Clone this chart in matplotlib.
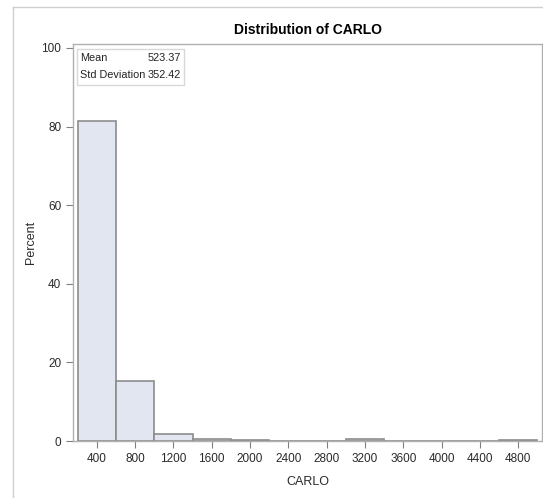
import matplotlib
matplotlib.use('Agg')
import matplotlib.pyplot as plt
from matplotlib.lines import Line2D

plt.rcParams['font.family'] = ['Liberation Sans', 'DejaVu Sans']

# Histogram data (bin midpoints and percent)
midpoints = [400, 800, 1200, 1600, 2000, 2400, 2800, 3200, 3600, 4000, 4400, 4800]
percents = [81.3, 15.3, 1.7, 0.6, 0.3, 0.0, 0.0, 0.5, 0.0, 0.0, 0.0, 0.3]
bin_width = 400
tick_values = midpoints
y_ticks = [0, 20, 40, 60, 80, 100]
stat_names = ['Mean', 'Std Deviation']
stat_values = ['523.37', '352.42']

W, H = 543, 498
fig = plt.figure(figsize=(W / 100, H / 100), dpi=100)
fig.patch.set_facecolor('white')

# outer frame of the graph (left and top only visible)
fig.add_artist(Line2D([13 / W, 13 / W], [0, 1 - 7 / H], transform=fig.transFigure,
                      color='#d0d0d0', linewidth=1.0))
fig.add_artist(Line2D([13 / W, 1], [1 - 7 / H, 1 - 7 / H], transform=fig.transFigure,
                      color='#d0d0d0', linewidth=1.0))

left, right, top, bottom = 73, 542, 44, 441
ax = fig.add_axes([left / W, 1 - bottom / H, (right - left) / W, (bottom - top) / H])

ax.bar(midpoints, percents, width=bin_width, color='#e1e6f0', edgecolor='#8c8c8c',
       linewidth=1.2, align='center')

ax.set_xlim(153, 5047)
ax.set_ylim(0, 101)
ax.set_xticks(tick_values)
ax.set_yticks(y_ticks)
ax.tick_params(axis='both', colors='#808080', labelcolor='#2a2a2a', labelsize=8.5,
               length=5, direction='out')
for s in ax.spines.values():
    s.set_color('#b0b0b0')
    s.set_linewidth(1.0)

ax.set_xlabel('CARLO', fontsize=9, color='#2a2a2a', labelpad=8)
ax.set_ylabel('Percent', fontsize=9, color='#2a2a2a', labelpad=3)
ax.set_title('Distribution of CARLO', fontsize=10, fontweight='bold', pad=7)

# inset statistics box
sx = lambda px: (px - left) / (right - left)
sy = lambda py: (bottom - py) / (bottom - top)
ax.add_artist(plt.Rectangle((sx(77), sy(85)), sx(184) - sx(77), sy(49) - sy(85),
                            transform=ax.transAxes, facecolor='white',
                            edgecolor='#d8d8d8', linewidth=1.0, zorder=5))
for i, (n, v) in enumerate(zip(stat_names, stat_values)):
    ypix = 58 + i * 17
    ax.text(sx(80), sy(ypix), n, transform=ax.transAxes,
            fontsize=7.8, va='center', ha='left', color='#222222', zorder=6)
    ax.text(sx(181), sy(ypix), v, transform=ax.transAxes,
            fontsize=7.8, va='center', ha='right', color='#222222', zorder=6)

fig.savefig('out.png', dpi=100)
